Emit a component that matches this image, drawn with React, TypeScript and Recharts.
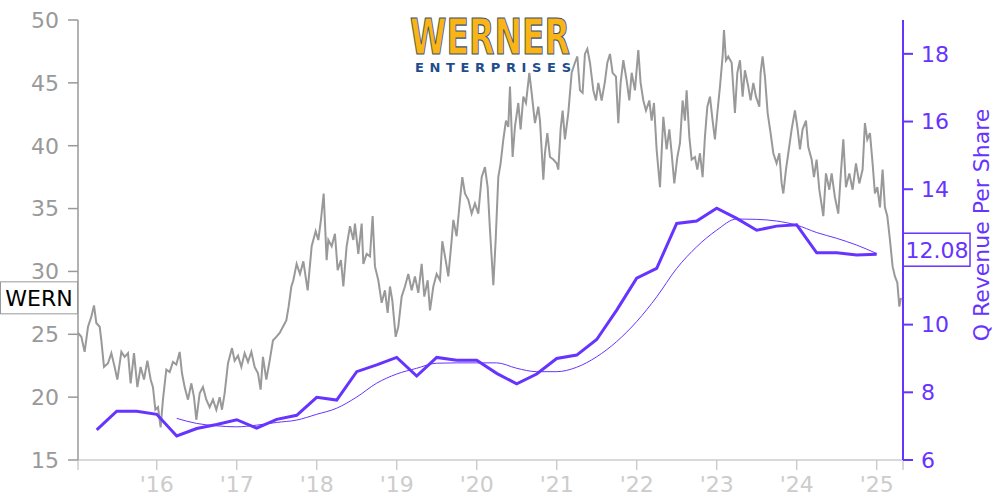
import { Line, LineChart, ReferenceLine, XAxis, YAxis } from "recharts";

const PRICE_COLOR = "#999999";
const REV_COLOR = "#6633ff";
const FONT = "DejaVu Sans";

const X_DOMAIN: [number, number] = [2015.016, 2025.329];
const YEAR_TICKS = [2015.016, 2016, 2017, 2018, 2019, 2020, 2021, 2022, 2023, 2024, 2025, 2025.329];
const PRICE_TICKS = [15, 20, 25, 30, 35, 40, 45, 50];
// 12 sits under the value tag, so it is left out
const REV_TICKS = [6, 8, 10, 14, 16, 18];

// quarterly revenue per share
const QUARTERS = [
  2015.25, 2015.5, 2015.75, 2016, 2016.25, 2016.5, 2016.75, 2017, 2017.25, 2017.5,
  2017.75, 2018, 2018.25, 2018.5, 2018.75, 2019, 2019.25, 2019.5, 2019.75, 2020,
  2020.25, 2020.5, 2020.75, 2021, 2021.25, 2021.5, 2021.75, 2022, 2022.25, 2022.5,
  2022.75, 2023, 2023.25, 2023.5, 2023.75, 2024, 2024.25, 2024.5, 2024.75, 2025,
];
const REV_PER_SHARE = [
  6.89, 7.44, 7.44, 7.35, 6.71, 6.93, 7.05, 7.19, 6.94, 7.2,
  7.32, 7.85, 7.77, 8.61, 8.81, 9.03, 8.48, 9.03, 8.95, 8.95,
  8.56, 8.25, 8.54, 9.0, 9.1, 9.56, 10.43, 11.37, 11.66, 12.99,
  13.06, 13.44, 13.14, 12.79, 12.91, 12.95, 12.12, 12.12, 12.06, 12.08,
];
// trailing average, starts one year later
const AVG_QUARTERS = QUARTERS.slice(4);
const REV_AVG = [
  7.23, 7.08, 7.01, 6.98, 7.03, 7.11, 7.18, 7.35, 7.53, 7.86,
  8.27, 8.54, 8.71, 8.86, 8.87, 8.87, 8.87, 8.71, 8.61, 8.61,
  8.74, 9.05, 9.5, 10.09, 10.82, 11.66, 12.3, 12.79, 13.12, 13.11,
  13.06, 12.94, 12.72, 12.55, 12.35, 12.1,
];

// [year, close]
const PRICE: [number, number][] = [
  [2015.016, 25.1], [2015.058, 24.8], [2015.099, 23.6], [2015.141, 25.6], [2015.183, 26.4],
  [2015.216, 27.3], [2015.245, 25.9], [2015.287, 25.6], [2015.308, 24.5], [2015.341, 22.4],
  [2015.391, 22.7], [2015.433, 23.5], [2015.474, 22.4], [2015.508, 21.4], [2015.558, 23.6],
  [2015.599, 23.2], [2015.641, 23.5], [2015.674, 21.1], [2015.716, 23.5], [2015.758, 20.8],
  [2015.799, 22.4], [2015.841, 21.4], [2015.883, 22.9], [2015.924, 21.4], [2015.953, 20.8],
  [2015.983, 19.0], [2016.016, 19.2], [2016.049, 17.6], [2016.078, 19.8], [2016.12, 22.2],
  [2016.162, 22.0], [2016.203, 22.8], [2016.245, 22.6], [2016.287, 23.6], [2016.316, 21.9],
  [2016.349, 20.8], [2016.391, 19.8], [2016.433, 21.1], [2016.466, 20.0], [2016.495, 18.2],
  [2016.537, 20.3], [2016.578, 20.8], [2016.62, 19.8], [2016.662, 19.2], [2016.703, 19.8],
  [2016.745, 19.0], [2016.787, 20.0], [2016.816, 19.0], [2016.849, 20.3], [2016.891, 22.7],
  [2016.941, 23.9], [2016.974, 22.9], [2017.016, 23.3], [2017.058, 22.4], [2017.099, 23.5],
  [2017.141, 22.8], [2017.183, 23.6], [2017.224, 22.4], [2017.266, 21.9], [2017.299, 20.6],
  [2017.328, 23.2], [2017.37, 21.4], [2017.412, 22.9], [2017.453, 24.5], [2017.495, 24.8],
  [2017.537, 25.1], [2017.578, 25.6], [2017.62, 26.1], [2017.649, 27.2], [2017.683, 28.8],
  [2017.708, 29.3], [2017.749, 30.6], [2017.791, 29.8], [2017.833, 30.8], [2017.887, 28.5],
  [2017.937, 32.0], [2017.987, 33.2], [2018.02, 32.5], [2018.053, 34.1], [2018.087, 36.2],
  [2018.124, 30.9], [2018.145, 32.5], [2018.187, 32.0], [2018.228, 33.0], [2018.262, 30.1],
  [2018.303, 30.9], [2018.333, 28.8], [2018.374, 32.0], [2018.416, 33.6], [2018.458, 32.5],
  [2018.478, 33.8], [2018.52, 31.4], [2018.562, 33.8], [2018.583, 30.6], [2018.624, 31.4],
  [2018.666, 31.2], [2018.699, 34.4], [2018.728, 30.4], [2018.77, 29.3], [2018.812, 27.5],
  [2018.853, 28.5], [2018.887, 26.7], [2018.916, 28.8], [2018.945, 27.7], [2018.987, 24.8],
  [2019.02, 25.6], [2019.062, 28.0], [2019.103, 28.8], [2019.145, 29.8], [2019.187, 28.5],
  [2019.228, 29.6], [2019.27, 28.3], [2019.312, 30.6], [2019.345, 28.0], [2019.387, 29.3],
  [2019.416, 26.9], [2019.458, 28.8], [2019.499, 29.8], [2019.541, 29.3], [2019.57, 32.4],
  [2019.612, 30.9], [2019.645, 29.6], [2019.687, 32.5], [2019.708, 34.1], [2019.749, 32.8],
  [2019.791, 35.7], [2019.82, 37.5], [2019.853, 36.2], [2019.895, 35.7], [2019.937, 34.6],
  [2019.978, 35.4], [2020.02, 34.6], [2020.062, 37.5], [2020.103, 38.3], [2020.137, 36.7],
  [2020.166, 33.3], [2020.208, 28.9], [2020.237, 32.5], [2020.27, 37.5], [2020.299, 38.6],
  [2020.333, 40.5], [2020.366, 42.0], [2020.395, 41.5], [2020.416, 44.7], [2020.449, 39.1],
  [2020.478, 41.5], [2020.52, 43.4], [2020.549, 41.3], [2020.583, 43.9], [2020.616, 43.4],
  [2020.658, 45.8], [2020.687, 44.2], [2020.728, 41.8], [2020.77, 43.1], [2020.791, 42.0],
  [2020.833, 37.3], [2020.853, 39.4], [2020.883, 41.0], [2020.916, 39.1], [2020.958, 38.9],
  [2020.999, 38.6], [2021.02, 38.1], [2021.049, 41.3], [2021.074, 42.8], [2021.103, 40.5],
  [2021.145, 42.6], [2021.187, 45.8], [2021.228, 46.6], [2021.258, 47.1], [2021.291, 44.4],
  [2021.324, 44.2], [2021.353, 47.3], [2021.383, 47.7], [2021.416, 46.6], [2021.458, 44.4],
  [2021.491, 43.6], [2021.52, 45.0], [2021.562, 43.6], [2021.603, 45.1], [2021.633, 46.6],
  [2021.666, 47.3], [2021.699, 45.8], [2021.741, 45.5], [2021.77, 41.8], [2021.799, 45.0],
  [2021.833, 46.8], [2021.874, 45.2], [2021.908, 43.6], [2021.937, 45.8], [2021.978, 44.4],
  [2022.02, 47.6], [2022.049, 45.0], [2022.083, 43.6], [2022.116, 42.8], [2022.158, 43.6],
  [2022.187, 42.0], [2022.216, 43.4], [2022.249, 39.7], [2022.291, 36.7], [2022.333, 42.3],
  [2022.374, 39.7], [2022.408, 41.3], [2022.437, 39.4], [2022.47, 37.0], [2022.508, 39.1],
  [2022.541, 40.2], [2022.574, 43.6], [2022.603, 42.0], [2022.624, 44.4], [2022.658, 40.7],
  [2022.687, 38.9], [2022.728, 39.1], [2022.758, 38.1], [2022.791, 39.4], [2022.824, 37.5],
  [2022.853, 40.7], [2022.883, 43.1], [2022.916, 43.9], [2022.949, 42.0], [2022.978, 40.5],
  [2023.008, 42.6], [2023.041, 44.7], [2023.074, 47.1], [2023.091, 49.2], [2023.116, 46.8],
  [2023.145, 47.1], [2023.187, 46.6], [2023.228, 42.6], [2023.258, 45.8], [2023.291, 46.8],
  [2023.324, 43.9], [2023.353, 46.0], [2023.395, 44.7], [2023.424, 43.6], [2023.458, 45.0],
  [2023.491, 43.9], [2023.533, 43.1], [2023.549, 45.8], [2023.574, 47.1], [2023.603, 45.5],
  [2023.637, 42.6], [2023.674, 41.0], [2023.708, 39.4], [2023.749, 38.6], [2023.783, 39.4],
  [2023.812, 37.0], [2023.833, 36.2], [2023.866, 38.1], [2023.895, 39.4], [2023.937, 41.3],
  [2023.978, 42.8], [2024.012, 41.3], [2024.041, 39.7], [2024.074, 41.3], [2024.116, 42.0],
  [2024.145, 39.9], [2024.187, 38.9], [2024.216, 37.5], [2024.249, 38.9], [2024.283, 36.5],
  [2024.333, 34.4], [2024.366, 37.8], [2024.408, 36.5], [2024.437, 37.8], [2024.478, 35.9],
  [2024.52, 34.6], [2024.549, 37.5], [2024.583, 40.5], [2024.616, 36.7], [2024.658, 37.8],
  [2024.699, 36.5], [2024.741, 38.6], [2024.783, 37.0], [2024.824, 38.1], [2024.853, 41.8],
  [2024.883, 40.5], [2024.916, 41.0], [2024.949, 38.6], [2024.978, 36.2], [2025.008, 36.7],
  [2025.041, 35.1], [2025.074, 38.1], [2025.103, 35.1], [2025.133, 34.4], [2025.166, 32.5],
  [2025.199, 30.4], [2025.228, 29.6], [2025.258, 29.1], [2025.283, 27.2], [2025.304, 27.9],
];

const priceData = PRICE.map(([t, price]) => ({ t, price }));
const revData = QUARTERS.map((t, i) => ({ t, rev: REV_PER_SHARE[i] }));
const avgData = AVG_QUARTERS.map((t, i) => ({ t, avg: REV_AVG[i] }));

const LAST_PRICE = PRICE[PRICE.length - 1][1];
const LAST_REV = REV_PER_SHARE[REV_PER_SHARE.length - 1];

const yearLabel = (t: number) => (Number.isInteger(t) ? `'${String(t).slice(2)}` : "");

function TickerTag(props: any) {
  const cy = props.viewBox.y;
  return (
    <g>
      <rect x={0.5} y={cy - 16} width={77} height={32} fill="#fff" stroke="#999" />
      <text x={39} y={cy} dy="0.36em" textAnchor="middle" fontSize={22} fill="#000" fontFamily={FONT}>
        WERN
      </text>
    </g>
  );
}

function RevTag(props: any) {
  const { x, y, width } = props.viewBox;
  const left = x + width;
  return (
    <g>
      <rect x={left} y={y - 21} width={67} height={33} fill="#fff" stroke={REV_COLOR} strokeWidth={1.5} />
      <text x={left + 34} y={y - 4.5} dy="0.36em" textAnchor="middle" fontSize={22} fill={REV_COLOR} fontFamily={FONT}>
        {LAST_REV.toFixed(2)}
      </text>
    </g>
  );
}

export default function App() {
  return (
    <div style={{ position: "absolute", left: 0, top: 0, width: 1000, height: 500, fontFamily: FONT, background: "#fff" }}>
      <LineChart width={1000} height={500} margin={{ top: 20, right: 0, bottom: 0, left: 0 }}>
        <XAxis
          type="number"
          dataKey="t"
          domain={X_DOMAIN}
          ticks={YEAR_TICKS}
          interval={0}
          allowDataOverflow
          tickFormatter={yearLabel}
          height={40}
          stroke="#cccccc"
          strokeWidth={1.5}
          tickSize={10}
          tickMargin={6}
          tick={{ fill: "#cccccc", fontSize: 22, fontFamily: FONT }}
        />
        <YAxis
          yAxisId="left"
          domain={[15, 50]}
          ticks={PRICE_TICKS}
          interval={0}
          width={78}
          stroke={PRICE_COLOR}
          strokeWidth={1.5}
          tickSize={10}
          tickMargin={9}
          tick={{ fill: PRICE_COLOR, fontSize: 22, fontFamily: FONT }}
        />
        <YAxis
          yAxisId="right"
          orientation="right"
          domain={[6, 19]}
          ticks={REV_TICKS}
          interval={0}
          width={97}
          stroke={REV_COLOR}
          strokeWidth={2}
          tickSize={10}
          tickMargin={8}
          tick={{ fill: REV_COLOR, fontSize: 22, fontFamily: FONT }}
        />
        <Line
          yAxisId="left"
          data={priceData}
          dataKey="price"
          type="linear"
          stroke={PRICE_COLOR}
          strokeWidth={2}
          dot={false}
          isAnimationActive={false}
        />
        <Line
          yAxisId="right"
          data={avgData}
          dataKey="avg"
          type="monotone"
          stroke={REV_COLOR}
          strokeWidth={1}
          dot={false}
          isAnimationActive={false}
        />
        <Line
          yAxisId="right"
          data={revData}
          dataKey="rev"
          type="linear"
          stroke={REV_COLOR}
          strokeWidth={3}
          dot={false}
          isAnimationActive={false}
        />
        <ReferenceLine yAxisId="left" y={LAST_PRICE} stroke="none" label={<TickerTag />} />
        <ReferenceLine yAxisId="right" y={LAST_REV} stroke="none" label={<RevTag />} />
      </LineChart>
      <svg width={1000} height={500} style={{ position: "absolute", left: 0, top: 0, pointerEvents: "none" }}>
        <text
          x={410}
          y={54}
          fontSize={49}
          fontWeight="bold"
          fontFamily={FONT}
          fill="#fbb416"
          stroke="#3d5470"
          strokeWidth={1.2}
          textLength={160}
          lengthAdjust="spacingAndGlyphs"
        >
          WERNER
        </text>
        <text
          x={415}
          y={72}
          fontSize={13}
          fontWeight="bold"
          fontFamily={FONT}
          fill="#1e4d8c"
          textLength={156}
          lengthAdjust="spacing"
        >
          ENTERPRISES
        </text>
        <text
          x={981}
          y={225}
          transform="rotate(-90 981 225)"
          textAnchor="middle"
          dominantBaseline="central"
          fontSize={22}
          fontFamily={FONT}
          fill={REV_COLOR}
        >
          Q Revenue Per Share
        </text>
      </svg>
    </div>
  );
}
